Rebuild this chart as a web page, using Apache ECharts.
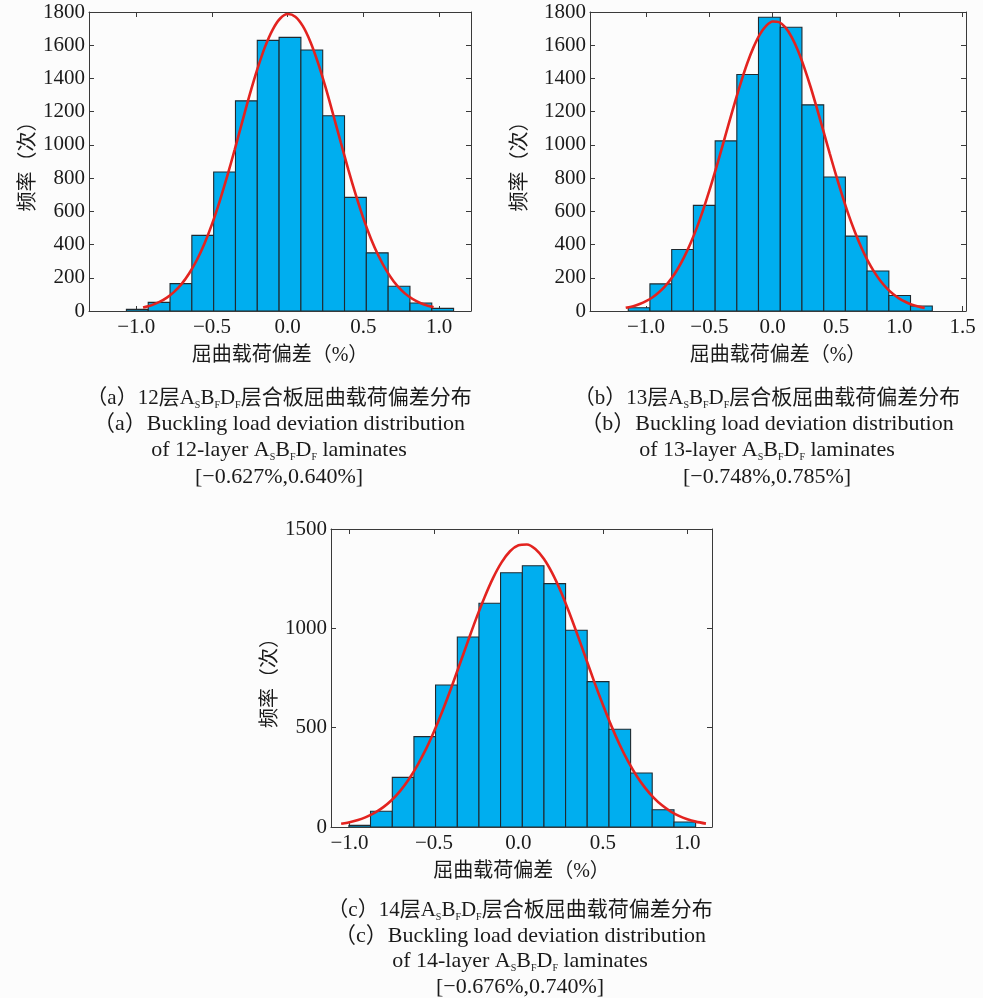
<!DOCTYPE html>
<html>
<head>
<meta charset="utf-8">
<script src="https://cdn.jsdelivr.net/npm/echarts@6/dist/echarts.min.js"></script>
<style>
html,body{margin:0;padding:0;background:#fcfcfc;}
#main{width:983px;height:998px;}
</style>
</head>
<body>
<div id="main"></div>
<script>
// ---------- DATA ----------
// (a) 12-layer
const binEdgesA = [-1.065,-0.921,-0.777,-0.633,-0.489,-0.345,-0.201,-0.057,0.087,0.231,0.375,0.519,0.663,0.807,0.951,1.095];
const countsA   = [10,52,165,455,837,1265,1629,1647,1571,1175,684,350,149,48,16];
const curveXA   = [-0.955,-0.9,-0.85,-0.8,-0.75,-0.7,-0.65,-0.6,-0.55,-0.5,-0.45,-0.4,-0.35,-0.3,-0.25,-0.2,-0.15,-0.1,-0.05,0.0,0.05,0.1,0.15,0.2,0.25,0.3,0.35,0.4,0.45,0.5,0.55,0.6,0.65,0.7,0.75,0.8,0.85,0.9,0.963];
const curveYA   = [21,35,53,79,115,163,227,307,405,523,659,810,972,1140,1305,1457,1590,1693,1761,1788,1772,1715,1620,1494,1346,1183,1016,851,697,556,434,331,246,178,126,87,59,39,23];

// (b) 13-layer
const binEdgesB = [-1.140,-0.969,-0.797,-0.626,-0.454,-0.283,-0.112,0.060,0.231,0.403,0.574,0.745,0.917,1.088,1.260];
const countsB   = [20,163,370,636,1024,1424,1768,1708,1241,807,451,241,93,30];
const curveXB   = [-1.16,-1.1,-1.05,-1.0,-0.95,-0.9,-0.85,-0.8,-0.75,-0.7,-0.65,-0.6,-0.55,-0.5,-0.45,-0.4,-0.35,-0.3,-0.25,-0.2,-0.15,-0.1,-0.05,0.0,0.05,0.1,0.15,0.2,0.25,0.3,0.35,0.4,0.45,0.5,0.55,0.6,0.65,0.7,0.75,0.8,0.85,0.9,0.95,1.0,1.05,1.1,1.15,1.2];
const curveYB   = [19,29,42,59,81,111,148,195,253,323,405,499,606,724,851,984,1119,1252,1378,1493,1590,1667,1718,1743,1739,1707,1649,1567,1464,1347,1218,1084,949,818,693,577,474,382,303,237,182,138,102,75,54,38,27,18];

// (c) 14-layer
const binEdgesC = [-1.004,-0.876,-0.747,-0.619,-0.491,-0.362,-0.234,-0.106,0.023,0.151,0.279,0.407,0.536,0.664,0.792,0.921,1.049];
const countsC   = [8,79,250,455,715,956,1126,1280,1315,1225,990,732,492,272,87,25];
const curveXC   = [-1.05,-1.0,-0.95,-0.9,-0.85,-0.8,-0.75,-0.7,-0.65,-0.6,-0.55,-0.5,-0.45,-0.4,-0.35,-0.3,-0.25,-0.2,-0.15,-0.1,-0.05,0.0,0.05,0.1,0.15,0.2,0.25,0.3,0.35,0.4,0.45,0.5,0.55,0.6,0.65,0.7,0.75,0.8,0.85,0.9,0.95,1.0,1.05,1.11];
const curveYC   = [16,24,35,51,72,100,136,182,239,308,388,481,584,696,814,933,1050,1158,1254,1332,1388,1418,1422,1399,1350,1278,1187,1081,966,847,728,615,509,413,329,257,197,148,109,79,56,39,27,17];

// tick labels
const xTicksA = [-1,-0.5,0,0.5,1];
const xTicksB = [-1,-0.5,0,0.5,1,1.5];
const xTicksC = [-1,-0.5,0,0.5,1];

const xNameText = '屈曲载荷偏差（%）';
const yNameText = '频率（次）';
const captionsA = ['（a）12层A{s|S}B{s|F}D{s|F}层合板屈曲载荷偏差分布','（a）Buckling load deviation distribution','of 12-layer A{s|S}B{s|F}D{s|F} laminates','[−0.627%,0.640%]'];
const captionsB = ['（b）13层A{s|S}B{s|F}D{s|F}层合板屈曲载荷偏差分布','（b）Buckling load deviation distribution','of 13-layer A{s|S}B{s|F}D{s|F} laminates','[−0.748%,0.785%]'];
const captionsC = ['（c）14层A{s|S}B{s|F}D{s|F}层合板屈曲载荷偏差分布','（c）Buckling load deviation distribution','of 14-layer A{s|S}B{s|F}D{s|F} laminates','[−0.676%,0.740%]'];

// ---------- STYLE ----------
const SERIF = '"Liberation Serif","Noto Sans CJK SC",serif';
const TXT = '#1a1a1a';
const AXC = '#3a3a3a';
const BAR = '#00AEEF';
const RED = '#E3231F';

function fmtX(v){ return (v < 0 ? '−' : '') + Math.abs(v).toFixed(1); }
function fmtY(v){ return String(v); }

function histData(edges, counts){
  return counts.map((c,i)=>[edges[i], edges[i+1], c]);
}
function curveData(xs, ys){ return xs.map((x,i)=>[x, ys[i]]); }

function histRender(params, api){
  const p0 = api.coord([api.value(0), api.value(2)]);
  const p1 = api.coord([api.value(1), 0]);
  return {
    type:'rect',
    shape:{x:p0[0], y:p0[1], width:p1[0]-p0[0], height:p1[1]-p0[1]},
    style:{fill:BAR, stroke:'#1f2a30', lineWidth:1.1}
  };
}

const grids = [
  {left:89, top:12, width:382, height:299},
  {left:590, top:12, width:376, height:299},
  {left:331, top:529, width:381, height:298}
];
const xr = [[-1.312,1.21],[-1.442,1.526],[-1.11,1.146]];
const xt = [xTicksA, xTicksB, xTicksC];
const yr = [[0,1800,200],[0,1800,200],[0,1500,500]];
const yGap = [46, 59, 50];

const xAxes = [], yAxes = [], series = [];
for (let g=0; g<3; g++){
  xAxes.push({
    gridIndex:g, type:'value', min:xr[g][0], max:xr[g][1], position:'bottom',
    axisLine:{show:true, onZero:false, lineStyle:{color:AXC, width:1}},
    axisTick:{show:true, inside:true, length:5, customValues:xt[g], lineStyle:{color:AXC}},
    axisLabel:{show:true, customValues:xt[g], formatter:fmtX, fontFamily:SERIF, fontSize:21, color:TXT, margin:6},
    splitLine:{show:false},
    name:xNameText, nameLocation:'middle', nameGap:35,
    nameTextStyle:{fontFamily:SERIF, fontSize:20, color:TXT}
  });
  xAxes.push({
    gridIndex:g, type:'value', min:xr[g][0], max:xr[g][1], position:'top',
    axisLine:{show:true, onZero:false, lineStyle:{color:AXC, width:1}},
    axisTick:{show:true, inside:true, length:5, customValues:xt[g], lineStyle:{color:AXC}},
    axisLabel:{show:false}, splitLine:{show:false}
  });
  yAxes.push({
    gridIndex:g, type:'value', min:yr[g][0], max:yr[g][1], interval:yr[g][2], position:'left',
    axisLine:{show:true, onZero:false, lineStyle:{color:AXC, width:1}},
    axisTick:{show:true, inside:true, length:5, lineStyle:{color:AXC}},
    axisLabel:{fontFamily:SERIF, fontSize:21, color:TXT, margin:4, formatter:fmtY},
    splitLine:{show:false},
    name:yNameText, nameLocation:'middle', nameRotate:90, nameGap:yGap[g],
    nameTextStyle:{fontFamily:SERIF, fontSize:20, color:TXT}
  });
  yAxes.push({
    gridIndex:g, type:'value', min:yr[g][0], max:yr[g][1], interval:yr[g][2], position:'right',
    axisLine:{show:true, onZero:false, lineStyle:{color:AXC, width:1}},
    axisTick:{show:true, inside:true, length:5, lineStyle:{color:AXC}},
    axisLabel:{show:false}, splitLine:{show:false}
  });
}
const hists = [histData(binEdgesA,countsA), histData(binEdgesB,countsB), histData(binEdgesC,countsC)];
const curves = [curveData(curveXA,curveYA), curveData(curveXB,curveYB), curveData(curveXC,curveYC)];
for (let g=0; g<3; g++){
  series.push({
    type:'custom', xAxisIndex:2*g, yAxisIndex:2*g, renderItem:histRender,
    encode:{x:[0,1], y:2}, data:hists[g], silent:true, clip:true
  });
  series.push({
    type:'line', xAxisIndex:2*g, yAxisIndex:2*g, data:curves[g], smooth:0.3,
    showSymbol:false, symbol:'none', silent:true,
    lineStyle:{color:RED, width:2.6}, z:5
  });
}

// captions
const rich = {
  s:{fontFamily:SERIF, fontSize:10, color:TXT, verticalAlign:'bottom', lineHeight:14}
};
function captionGraphics(lines, cx, ys){
  return lines.map((t,i)=>({
    type:'text', x:cx, y:ys[i],
    style:{
      text:t, rich:rich, fill:TXT,
      font:(i === 0 ? '21px ' : '22px ') + SERIF,
      align:'center', verticalAlign:'middle', lineHeight:24
    }
  }));
}
const graphic = [].concat(
  captionGraphics(captionsA, 279, [398,424,450,477]),
  captionGraphics(captionsB, 767, [398,424,450,477]),
  captionGraphics(captionsC, 520, [910,936,961,987])
);

const chart = echarts.init(document.getElementById('main'), null, {renderer:'canvas'});
chart.setOption({
  backgroundColor:'#fcfcfc',
  animation:false,
  grid:grids,
  xAxis:xAxes,
  yAxis:yAxes,
  series:series,
  graphic:graphic
});
</script>
</body>
</html>
